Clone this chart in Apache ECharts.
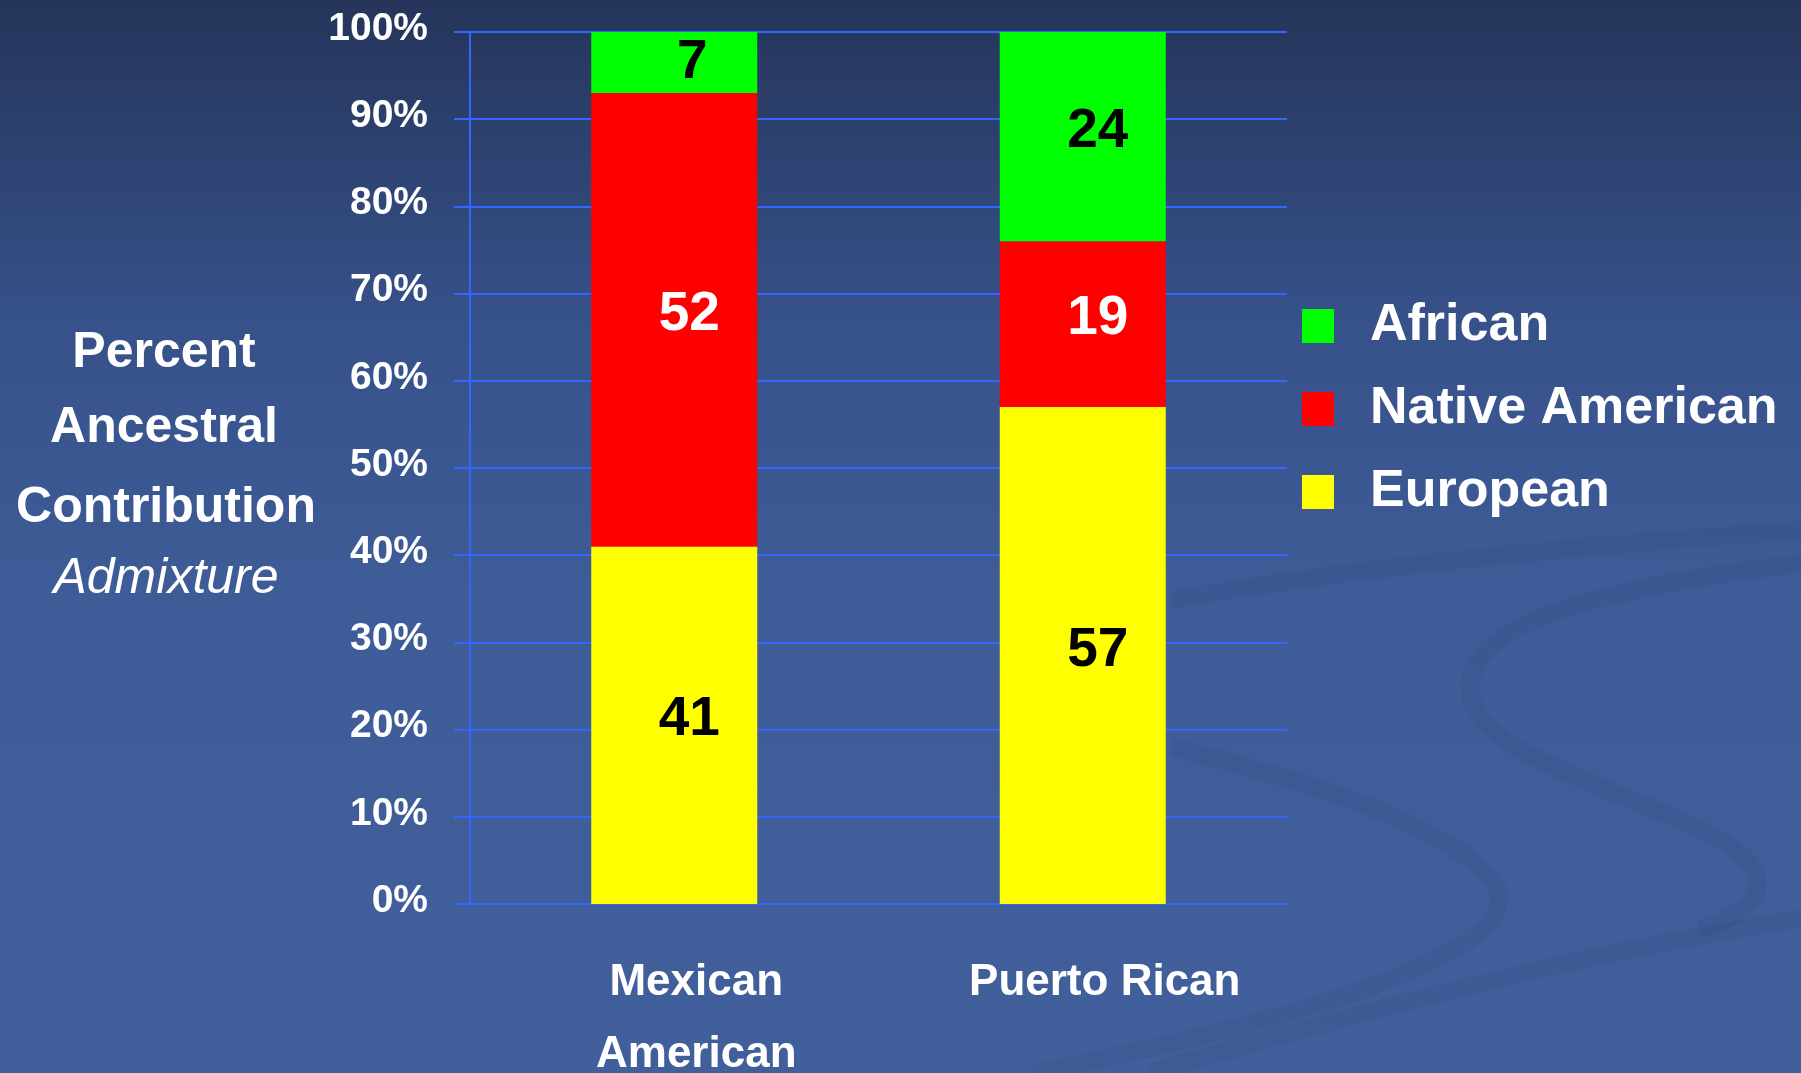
<!DOCTYPE html>
<html>
<head>
<meta charset="utf-8">
<script src="https://cdn.jsdelivr.net/npm/echarts@6/dist/echarts.min.js"></script>
<style>
  html, body { margin: 0; padding: 0; }
  #chart { width: 1801px; height: 1073px; }
</style>
</head>
<body>
<div id="chart"></div>
<script>
const categories = ['Mexican\nAmerican', 'Puerto Rican']
const european = [41, 57]
const nativeAmerican = [52, 19]
const african = [7, 24]
const legendNames = ['African', 'Native American', 'European']

const ch = echarts.init(document.getElementById('chart'))
const blue = '#3366ff'
const font = 'Arial, "Liberation Sans", sans-serif'

function barSeries(name, data, color, labelColor) {
  return {
    name: name,
    type: 'bar',
    stack: 'total',
    barWidth: 166,
    data: data,
    itemStyle: { color: color },
    label: {
      show: true,
      position: 'inside',
      offset: [15, -5],
      color: labelColor,
      fontFamily: font,
      fontWeight: 'bold',
      fontSize: 55
    }
  }
}

const africanSeries = barSeries('African', african, '#00ff00', '#000')
// the "7" sits in the middle of its thin segment
africanSeries.data = african.map((v, i) => i === 0 ? { value: v, label: { offset: [18, 0] } } : v)

// faint swooshes from the slide background, as cubic segments [x1,y1,cx1,cy1,cx2,cy2,x2,y2]
const swooshes = [
  [1801, 563, 1600, 590, 1470, 620, 1470, 689],
  [1470, 689, 1470, 740, 1560, 770, 1680, 820],
  [1680, 820, 1800, 870, 1760, 910, 1700, 930],
  [1172, 747, 1300, 780, 1440, 820, 1493, 880],
  [1493, 880, 1540, 950, 1300, 1020, 1034, 1073],
  [1172, 600, 1400, 560, 1600, 545, 1801, 530],
  [1150, 1073, 1400, 1000, 1600, 950, 1801, 919]
]

function titleText(text, x, y, style) {
  return {
    type: 'text', x: x, y: y, silent: true,
    style: { text: text, fill: '#fff', font: style + ' ' + font, align: 'center', verticalAlign: 'middle' }
  }
}

const option = {
  backgroundColor: {
    type: 'linear', x: 0, y: 0, x2: 0, y2: 1,
    colorStops: [
      { offset: 0, color: '#25355a' },
      { offset: 0.3, color: '#37518a' },
      { offset: 0.55, color: '#3e5c97' },
      { offset: 1, color: '#41609b' }
    ]
  },
  graphic: [
    ...swooshes.map(s => ({
      type: 'bezierCurve',
      z: -1,
      silent: true,
      shape: { x1: s[0], y1: s[1], cpx1: s[2], cpy1: s[3], cpx2: s[4], cpy2: s[5], x2: s[6], y2: s[7] },
      style: { fill: null, stroke: 'rgba(45,75,125,0.2)', lineWidth: 18 }
    })),
    titleText('Percent', 164, 353, 'bold 50px'),
    titleText('Ancestral', 164, 428, 'bold 50px'),
    titleText('Contribution', 166, 508, 'bold 50px'),
    titleText('Admixture', 166, 579, 'italic 50px')
  ],
  legend: {
    data: legendNames,
    orient: 'vertical',
    left: 1297,
    top: 295,
    icon: 'rect',
    itemWidth: 32,
    itemHeight: 34,
    itemGap: 31,
    textStyle: {
      color: '#fff',
      fontFamily: font,
      fontWeight: 'bold',
      fontSize: 52,
      padding: [0, 0, 0, 31]
    }
  },
  grid: {
    left: 470,
    right: 514,
    top: 32,
    bottom: 169,
    outerBoundsMode: 'none'
  },
  xAxis: {
    type: 'category',
    data: categories,
    axisLine: { lineStyle: { color: blue, width: 2 } },
    axisTick: { length: 16, lineStyle: { color: blue, width: 2 } },
    axisLabel: {
      interval: 0,
      margin: 43,
      color: '#fff',
      fontFamily: font,
      fontWeight: 'bold',
      fontSize: 44,
      lineHeight: 72,
      padding: [0, 0, 0, 44]
    }
  },
  yAxis: {
    type: 'value',
    min: 0,
    max: 100,
    interval: 10,
    axisLine: { show: true, lineStyle: { color: blue, width: 2 } },
    axisTick: { show: true, length: 16, lineStyle: { color: blue, width: 2 } },
    splitLine: { lineStyle: { color: blue, width: 2 } },
    axisLabel: {
      margin: 42,
      formatter: '{value}%',
      color: '#fff',
      fontFamily: font,
      fontWeight: 'bold',
      fontSize: 39,
      verticalAlign: 'bottom',
      lineHeight: 6
    }
  },
  series: [
    barSeries('European', european, '#ffff00', '#000'),
    barSeries('Native American', nativeAmerican, '#ff0000', '#fff'),
    africanSeries
  ]
}
ch.setOption(option)
</script>
</body>
</html>
